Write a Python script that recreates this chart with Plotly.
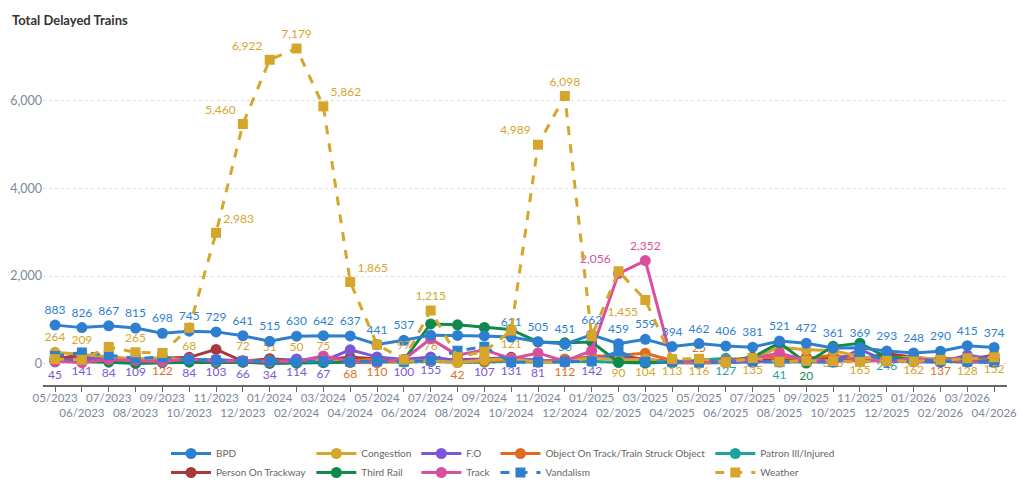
import plotly.graph_objects as go

months = ["05/2023", "06/2023", "07/2023", "08/2023", "09/2023", "10/2023", "11/2023", "12/2023",
          "01/2024", "02/2024", "03/2024", "04/2024", "05/2024", "06/2024", "07/2024", "08/2024",
          "09/2024", "10/2024", "11/2024", "12/2024", "01/2025", "02/2025", "03/2025", "04/2025",
          "05/2025", "06/2025", "07/2025", "08/2025", "09/2025", "10/2025", "11/2025", "12/2025",
          "01/2026", "02/2026", "03/2026", "04/2026"]

bpd = [883, 826, 867, 815, 698, 745, 729, 641, 515, 630, 642, 637, 441, 537, 655, 648, 636, 611,
       505, 451, 662, 459, 559, 394, 462, 406, 381, 521, 472, 361, 369, 293, 248, 290, 415, 374]
congestion = [264, 209, 150, 110, 140, 68, 40, 72, 51, 50, 75, 30, 25, 60, 76, 30, 90, 121,
              40, 50, 140, 90, 104, 30, 20, 30, 120, 380, 320, 303, 165, 110, 162, 90, 80, 90]
fo = [45, 141, 84, 109, 70, 84, 103, 66, 34, 114, 67, 320, 160, 100, 155, 80, 107, 131,
      81, 40, 142, 150, 40, 30, 20, 30, 40, 60, 50, 40, 330, 60, 50, 40, 200, 100]
object_on_track = [100, 60, 80, 90, 122, 100, 50, 40, 80, 60, 70, 68, 110, 60, 70, 42, 60, 90,
                   50, 112, 150, 200, 240, 80, 25, 80, 150, 150, 120, 200, 100, 80, 60, 137, 100, 120]
patron = [150, 120, 100, 80, 70, 60, 50, 60, 40, 50, 40, 60, 50, 40, 60, 30, 40, 60,
          40, 50, 60, 30, 20, 40, 80, 127, 70, 41, 50, 80, 100, 246, 80, 60, 40, 50]
person = [120, 200, 150, 100, 130, 150, 330, 60, 120, 80, 100, 150, 120, 70, 80, 100, 110, 150,
          60, 70, 170, 190, 100, 60, 50, 60, 80, 100, 150, 120, 80, 230, 150, 80, 100, 200]
third_rail = [60, 50, 40, 10, 30, 40, 30, 40, 10, 20, 30, 40, 50, 90, 910, 890, 830, 780,
              500, 480, 500, 40, 30, 40, 50, 60, 150, 480, 20, 400, 470, 150, 100, 60, 50, 80]
track = [60, 30, 100, 80, 50, 120, 60, 70, 50, 60, 180, 60, 40, 100, 570, 200, 320, 120,
         250, 60, 300, 2056, 2352, 50, 40, 60, 120, 250, 80, 60, 80, 60, 120, 80, 60, 30]
vandalism = [180, 260, 200, 130, 150, 100, 80, 60, 70, 50, 60, 50, 60, 50, 80, 300, 390, 40,
             40, 50, 60, 284, 50, 40, 30, 40, 50, 40, 60, 40, 220, 100, 80, 60, 50, 40]
weather = [110, 95, 385, 265, 250, 820, 2983, 5460, 6922, 7179, 5862, 1865, 440, 97, 1215, 160, 280, 760,
           4989, 6098, 630, 2110, 1455, 113, 116, 40, 135, 50, 70, 60, 45, 70, 55, 90, 128, 152]

# which data labels are visible (index -> position)
bpd_labels = {i: "top center" for i in range(36) if i not in (14, 15, 16)}
congestion_labels = {0: "top center", 1: "top center", 5: "top center", 7: "top center", 8: "top center",
                     9: "top center", 10: "top center", 14: "top center", 17: "top center",
                     21: "bottom center", 22: "bottom center", 29: "bottom center", 30: "bottom center",
                     32: "bottom center"}
fo_labels = {i: "bottom center" for i in (0, 1, 2, 3, 5, 6, 7, 8, 9, 10, 13, 14, 16, 17, 18, 20)}
object_labels = {4: "bottom center", 11: "bottom center", 12: "bottom center", 15: "bottom center",
                 19: "bottom center", 33: "bottom center", 24: "top center"}
patron_labels = {19: "top center", 25: "bottom center", 27: "bottom center", 31: "bottom center"}
third_rail_labels = {28: "bottom center"}
track_labels = {21: "top left", 22: "top center"}
weather_labels = {3: "top center", 6: "top right", 7: "top left", 8: "top left", 9: "top center",
                  10: "top right", 11: "top right", 13: "top center", 14: "top center", 18: "top left",
                  19: "top center", 22: "bottom left", 23: "bottom center", 24: "bottom center",
                  26: "bottom center", 34: "bottom center", 35: "bottom center"}

BLUE = "#2E7FD0"
GOLD = "#D6A62C"
PURPLE = "#7C55D9"
ORANGE = "#E06C1F"
TEAL = "#1EA39C"
RED = "#A9373B"
GREEN = "#0F8A4C"
PINK = "#D94F9E"
FONT = "Lato"


def build(name, values, labels, color, group, rank, dashed=False, width=3):
    text = [f"{v:,}" if i in labels else "" for i, v in enumerate(values)]
    pos = [labels.get(i, "top center") for i in range(len(values))]
    return go.Scatter(
        x=months, y=values, name=name, mode="lines+markers+text",
        text=text, textposition=pos,
        textfont=dict(size=12, color=color, family=FONT),
        line=dict(color=color, width=width, dash="dash" if dashed else "solid"),
        marker=dict(symbol="square" if dashed else "circle", size=10 if dashed else 11, color=color),
        legendgroup=group, legendrank=rank, cliponaxis=False, hoverinfo="x+y+name",
    )


fig = go.Figure()
# draw order (bottom first)
fig.add_trace(build("Patron Ill/Injured", patron, patron_labels, TEAL, "g5", 9))
fig.add_trace(build("Person On Trackway", person, {}, RED, "g1", 2))
fig.add_trace(build("Object On Track/Train Struck Object", object_on_track, object_labels, ORANGE, "g4", 7))
fig.add_trace(build("F.O", fo, fo_labels, PURPLE, "g3", 5))
fig.add_trace(build("Congestion", congestion, congestion_labels, GOLD, "g2", 3))
fig.add_trace(build("Third Rail", third_rail, third_rail_labels, GREEN, "g2", 4))
fig.add_trace(build("Track", track, track_labels, PINK, "g3", 6))
fig.add_trace(build("Vandalism", vandalism, {}, BLUE, "g4", 8, dashed=True))
fig.add_trace(build("BPD", bpd, bpd_labels, BLUE, "g1", 1))
fig.add_trace(build("Weather", weather, weather_labels, GOLD, "g5", 10, dashed=True))

row1_text = [m if i % 2 == 0 else "" for i, m in enumerate(months)]
row2_vals = [m for i, m in enumerate(months) if i % 2 == 1]

tickfont = dict(size=11.5, color="#7b869c", family=FONT)

fig.update_layout(
    width=1020, height=492,
    margin=dict(l=43, r=13, t=30, b=107, autoexpand=False),
    paper_bgcolor="white", plot_bgcolor="white",
    font=dict(family=FONT, color="#555"),
    title=dict(text="<b>Total Delayed Trains</b>", x=12 / 1020, xref="container", xanchor="left",
               y=1 - 20 / 492, yref="container", yanchor="middle",
               font=dict(size=13, color="#333", family=FONT)),
    showlegend=True,
    legend=dict(orientation="h", traceorder="grouped", x=(166 - 43) / 964, xanchor="left",
                yref="container", y=1 - 439 / 492, yanchor="top", tracegroupgap=21,
                font=dict(size=10, color="#666", family=FONT), groupclick="toggleitem",
                itemwidth=40),
    xaxis=dict(type="category", categoryorder="array", categoryarray=months,
               range=[-0.45, 35.48], tickmode="array", tickvals=months, ticktext=row1_text,
               tickangle=0, ticks="outside", ticklen=5, tickcolor="#666", tickwidth=1,
               ticklabelstandoff=-4,
               showline=True, linecolor="#666", linewidth=2, showgrid=False,
               tickfont=tickfont),
    xaxis2=dict(type="category", categoryorder="array", categoryarray=months, overlaying="x",
                anchor="y", side="bottom", range=[-0.45, 35.48], tickmode="array",
                tickvals=row2_vals, ticktext=row2_vals, tickangle=0, ticks="", ticklen=0,
                ticklabelstandoff=19, showline=False, showgrid=False, zeroline=False,
                tickfont=tickfont),
    yaxis=dict(range=[-480, 7600], tickvals=[0, 2000, 4000, 6000], tickformat=",d",
               showgrid=True, gridcolor="#dddddd", griddash="dot", gridwidth=1,
               zeroline=False, showline=False, ticks="",
               tickfont=dict(size=12.5, color="#7b869c", family=FONT)),
)
# invisible helper trace to activate the second x axis for the lower row of month labels
fig.add_trace(go.Scatter(x=row2_vals, y=[None] * len(row2_vals), xaxis="x2", yaxis="y",
                         showlegend=False, hoverinfo="skip", mode="lines"))

fig.write_html("out.html")
